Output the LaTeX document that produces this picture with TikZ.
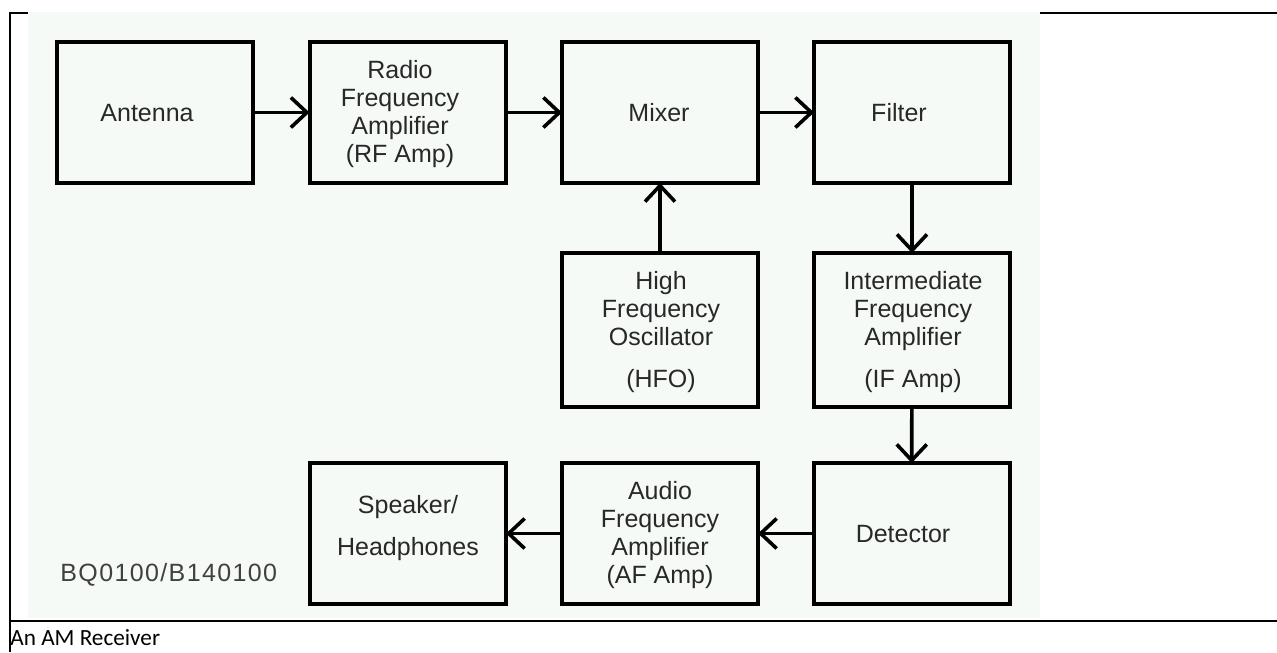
\documentclass[tikz,border=0pt]{standalone}
\usepackage{fontspec}
\setmainfont{Liberation Sans}
\newfontfamily\capfont{Carlito}
\newfontfamily\codefont[LetterSpace=5.5]{Liberation Sans}
\usetikzlibrary{arrows.meta}
\definecolor{imgbg}{RGB}{246,250,247}
\definecolor{txt}{RGB}{40,40,40}
\begin{document}
\begin{tikzpicture}[x=0.5pt,y=-0.5pt,
  blk/.style={draw=black, line width=2pt, minimum width=98pt, minimum height=70.5pt, inner sep=0pt, outer sep=0pt},
  tall/.style={minimum height=77pt},
  lbl/.style={align=center, font=\fontsize{12.5}{14}\selectfont, text=txt, inner sep=0pt},
  conn/.style={line width=1.8pt, -{Straight Barb[length=8pt,width=15pt,line width=1.8pt]}},
  rule/.style={line width=1pt, black}]
\useasboundingbox (0,0) rectangle (1277,652);
% table rules
\draw[rule] (10,652) -- (10,13) -- (1277,13);
\fill[imgbg] (28,12) rectangle (1040,618);
\draw[rule] (10,620.5) -- (1277,620.5);
% blocks
\node[blk] (ant) at (155,112.5) {};
\node[blk] (rf)  at (407.5,112.5) {};
\node[blk] (mix) at (660,112.5) {};
\node[blk] (fil) at (912,112.5) {};
\node[blk,tall] (hfo) at (660,330) {};
\node[blk,tall] (ifa) at (912,330) {};
\node[blk] (spk) at (408,533.5) {};
\node[blk] (afa) at (660,533.5) {};
\node[blk] (det) at (911.5,533.5) {};
% labels
\node[lbl] (tant) at (147,113) {Antenna};
\node[lbl] (trf) at (400,114) {Radio\\Frequency\\Amplifier\\(RF Amp)};
\node[lbl] (tmix) at (659,113) {Mixer};
\node[lbl] (tfil) at (899,113) {Filter};
\node[lbl] (thfo) at (661,332) {High\\Frequency\\Oscillator\\[7pt](HFO)};
\node[lbl] (tifa) at (913,332) {Intermediate\\Frequency\\Amplifier\\[7pt](IF Amp)};
\node[lbl] (tspk) at (408,528) {Speaker/\\[7pt]Headphones};
\node[lbl] (tafa) at (660,535) {Audio\\Frequency\\Amplifier\\(AF Amp)};
\node[lbl] (tdet) at (903,534) {Detector};
\node[lbl, anchor=base west, text=black!75, font=\codefont\fontsize{12.5}{14}\selectfont] (code) at (60,581) {BQ0100/B140100};
\node[anchor=base west, inner sep=0pt, font=\capfont\fontsize{11.6}{13}\selectfont] (cap) at (10,645) {An AM Receiver};
% connectors
\draw[conn] (ant) -- (rf);
\draw[conn] (rf) -- (mix);
\draw[conn] (mix) -- (fil);
\draw[conn] (hfo) -- (mix);
\draw[conn] (fil) -- (ifa);
\draw[conn] (ifa) -- (det);
\draw[conn] (det) -- (afa);
\draw[conn] (afa) -- (spk);
\end{tikzpicture}
\end{document}
